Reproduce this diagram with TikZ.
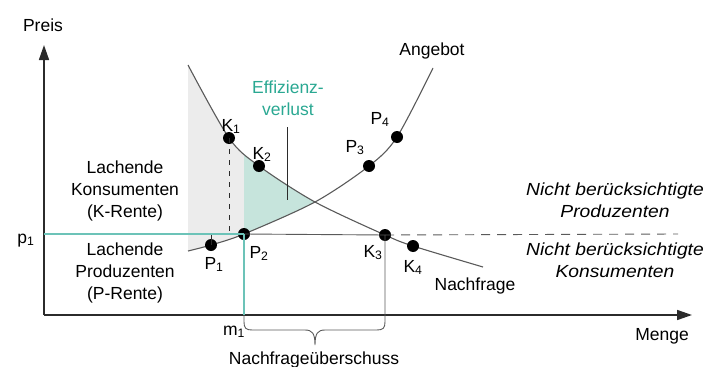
\documentclass[tikz,border=0pt]{standalone}
\usepackage{fontspec}
\setmainfont{Liberation Sans}
\usepackage{tikz}
\usetikzlibrary{arrows.meta}
\definecolor{ink}{HTML}{2B2B2B}
\definecolor{curve}{HTML}{5A5A5A}
\definecolor{tealline}{HTML}{6CC3B8}
\definecolor{tealfill}{HTML}{C6E4DC}
\definecolor{tealtext}{HTML}{2AA892}
\definecolor{greyfill}{HTML}{ECECEC}

\begin{document}
\begin{tikzpicture}[
  x=1pt,y=-1pt,
  font=\fontsize{17.5}{22}\selectfont,
  dot/.style={circle,fill=black,inner sep=0pt,minimum size=12pt},
  lbl/.style={inner sep=0pt,anchor=base},
  note/.style={inner sep=0pt,anchor=base,align=center},
  slanted/.style={font=\fontsize{17.5}{22}\selectfont\itshape\addfontfeature{FakeStretch=1.1}},
  axis/.style={line width=1.6pt,ink,-{Triangle[length=15pt,width=10pt]}},
  curveline/.style={line width=1.1pt,curve},
  tealrule/.style={line width=1.4pt,tealline},
  thinrule/.style={line width=0.9pt,curve}
]
\useasboundingbox (0,0) rectangle (713,367);

% areas between the curves
\begin{scope}
  \clip plot[smooth] coordinates {(188,65) (229,138) (259,166) (315,202) (385,235) (413,246) (483,267)} -- (483,400) -- (188,400) -- cycle;
  \clip plot[smooth] coordinates {(188,251) (211,245) (244,234) (315,202) (369,166) (397,137) (433,68)} -- (433,0) -- (188,0) -- cycle;
  \fill[greyfill] (188,0) rectangle (244,400);
  \fill[tealfill] (244,0) rectangle (330,400);
\end{scope}

% axes
\coordinate (O) at (44,315);
\coordinate (ytip) at (44,45);
\coordinate (xtip) at (692,315);
\draw[axis] (O) -- (ytip);
\draw[axis] (O) -- (xtip);
\node[lbl] (preis) at (43,31) {Preis};
\node[lbl] (menge) at (662,340) {Menge};

% curves
\draw[curveline] plot[smooth] coordinates {(188,65) (229,138) (259,166) (315,202) (385,235) (413,246) (483,267)};
\draw[curveline] plot[smooth] coordinates {(188,251) (211,245) (244,234) (315,202) (369,166) (397,137) (433,68)};
\node[lbl] (angebot) at (432,55) {Angebot};
\node[lbl] (nachfrage) at (475,290) {Nachfrage};

% points
\node[dot] (K1) at (229,138) {};
\node[dot] (K2) at (259,166) {};
\node[dot] (K3) at (385,235) {};
\node[dot] (K4) at (413,246) {};
\node[dot] (P1) at (211,245) {};
\node[dot] (P2) at (244,234) {};
\node[dot] (P3) at (369,166) {};
\node[dot] (P4) at (397,137) {};
\coordinate (p1) at (44,234);
\coordinate (m1) at (244,315);
\coordinate (K1foot) at (229,234);
\coordinate (P1top) at (211,234);
\coordinate (rightend) at (678,234);

\node[lbl] (lK1) at (231,131) {K\textsubscript{1}};
\node[lbl] (lK2) at (262,159) {K\textsubscript{2}};
\node[lbl] (lK3) at (373,257) {K\textsubscript{3}};
\node[lbl] (lK4) at (413,272) {K\textsubscript{4}};
\node[lbl] (lP1) at (214,269) {P\textsubscript{1}};
\node[lbl] (lP2) at (259,258) {P\textsubscript{2}};
\node[lbl] (lP3) at (355,152) {P\textsubscript{3}};
\node[lbl] (lP4) at (380,124) {P\textsubscript{4}};
\node[lbl] (lp1) at (26,243) {p\textsubscript{1}};
\node[lbl] (lm1) at (234,335) {m\textsubscript{1}};

% price and quantity lines
\draw[thinrule] (P2.center) -- (K3.center);
\draw[thinrule,dash pattern=on 9pt off 7pt] (K3.center) -- (rightend);
\draw[ink,line width=0.9pt,dash pattern=on 5pt off 6pt] (K1.center) -- (K1foot);
\draw[ink,line width=0.9pt] (P1.center) -- (P1top);
\draw[tealrule] (p1) -- (P2.center);
\draw[tealrule] (P2.center) -- (m1);

% excess demand brace
\coordinate (bl) at (244,322);
\coordinate (tip) at (315,345);
\coordinate (br) at (385,322);
\draw[thinrule] (m1) -- (bl) .. controls (244,328) and (246,330) .. (252,330) -- (305,330)
  .. controls (312,330) and (315,333) .. (tip)
  .. controls (315,333) and (318,330) .. (325,330) -- (377,330)
  .. controls (383,330) and (385,328) .. (br) -- (K3.center);
\node[lbl] (ueberschuss) at (314,364) {Nachfrageüberschuss};

% efficiency loss
\coordinate (ptop) at (287,127);
\coordinate (pbot) at (287,200);
\draw[ink,line width=1pt] (ptop) -- (pbot);
\node[note,text=tealtext] (verlust) at (288,115) {Effizienz-\\verlust};

% surplus labels
\node[note] (krente) at (125,217) {Lachende\\Konsumenten\\(K-Rente)};
\node[note] (prente) at (125,299) {Lachende\\Produzenten\\(P-Rente)};
\node[note,slanted] (nprod) at (615,217) {Nicht berücksichtigte\\Produzenten};
\node[note,slanted] (nkons) at (615,277) {Nicht berücksichtigte\\Konsumenten};
\end{tikzpicture}
\end{document}
